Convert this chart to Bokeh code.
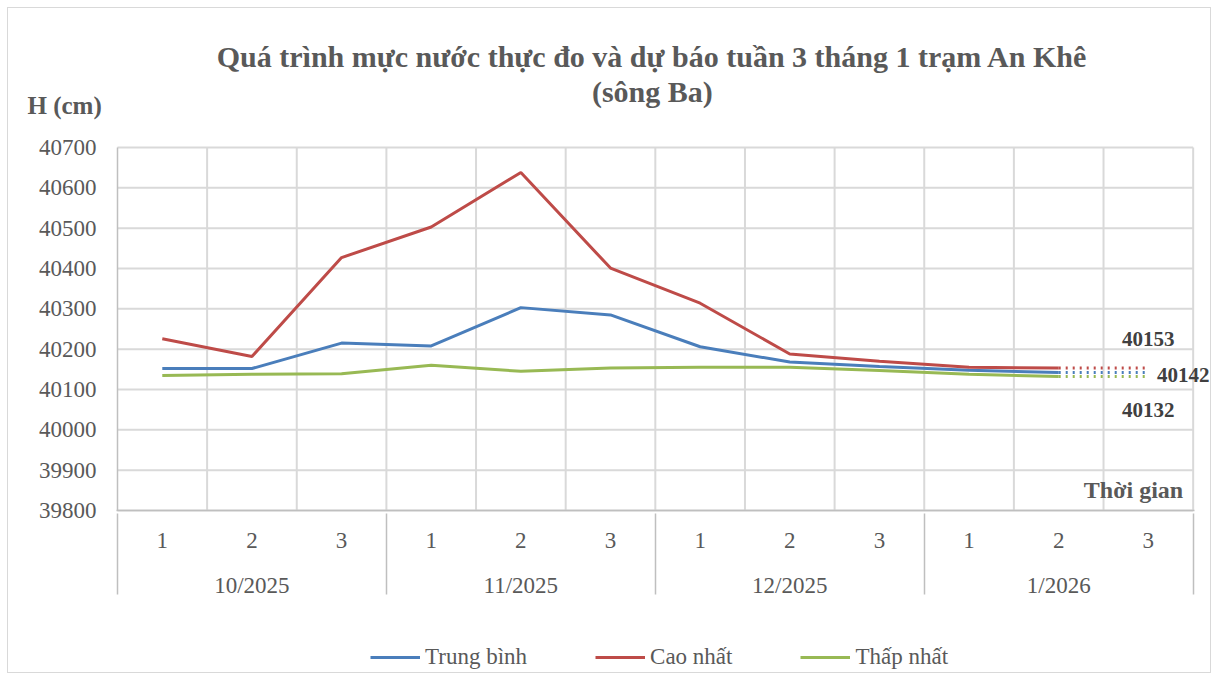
from bokeh.plotting import figure
from bokeh.models import FactorRange, Label, Legend, LegendItem, ColumnDataSource, FixedTicker
from bokeh.core.properties import value
from bokeh.embed import file_html
from bokeh.resources import INLINE

# ---------------- data ----------------
months = ["10/2025", "11/2025", "12/2025", "1/2026"]
weeks = ["1", "2", "3"]
series_names = ["Trung bình", "Cao nhất", "Thấp nhất"]
trung_binh = [40152, 40152, 40215, 40208, 40303, 40285, 40206, 40168, 40157, 40148, 40142]
cao_nhat = [40226, 40182, 40427, 40503, 40638, 40401, 40314, 40188, 40170, 40155, 40153]
thap_nhat = [40135, 40138, 40139, 40160, 40145, 40153, 40155, 40155, 40147, 40138, 40132]
forecast_values = [40142, 40153, 40132]
y_ticks = [39800, 39900, 40000, 40100, 40200, 40300, 40400, 40500, 40600, 40700]
title_line1 = "Quá trình mực nước thực đo và dự báo tuần 3 tháng 1 trạm An Khê"
title_line2 = "(sông Ba)"
y_label = "H (cm)"
x_label = "Thời gian"

colors = ["#4A7EBB", "#BE4B48", "#98B954"]
FONT = "Liberation Serif"
TXT = "#595959"
GRID = "#D9D9D9"
AXIS = "#BFBFBF"

# ---------------- layout geometry (screen px inside the figure) ----------------
W, H = 1204, 666
PLOT_TOP, PLOT_BOTTOM = 139, 502          # where y_ticks[-1] / y_ticks[0] sit
px_per_cm = (PLOT_BOTTOM - PLOT_TOP) / (y_ticks[-1] - y_ticks[0])
y_start = y_ticks[0] - (H - PLOT_BOTTOM) / px_per_cm
y_end = y_ticks[-1] + PLOT_TOP / px_per_cm

real = [(m, w) for m in months for w in weeks]
left_pad = [("_a", "_1"), ("_a", "_2")]
right_pad = [("_b", "_1")]
factors = left_pad + real + right_pad
x_range = FactorRange(*factors, factor_padding=0, group_padding=0, subgroup_padding=0,
                      range_padding=-0.7844, range_padding_units="absolute")

n = len(real)
x0 = len(left_pad)
bounds = [x0 + i for i in range(n + 1)]

p = figure(width=W, height=H, x_range=x_range, y_range=(y_start, y_end),
           output_backend="svg", toolbar_location=None, min_border=0,
           styles={"border": "1px solid #D9D9D9", "margin-left": "7px", "margin-top": "7px"})
p.outline_line_color = None
p.title.visible = False
p.xgrid.visible = False
p.ygrid.visible = False

# y axis pinned at the left edge of the plot area
ya = p.yaxis[0]
ya.fixed_location = bounds[0]
ya.bounds = (y_ticks[0], y_ticks[-1])
ya.ticker = FixedTicker(ticks=y_ticks)
ya.major_label_text_font = FONT
ya.major_label_text_font_size = "23px"
ya.major_label_text_color = TXT
ya.major_tick_line_color = None
ya.major_tick_out = 0
ya.major_tick_in = 0
ya.minor_tick_line_color = None
ya.axis_line_color = AXIS
ya.axis_line_width = 1.5
ya.major_label_standoff = 21

# x axis pinned at the bottom of the plot area
xa = p.xaxis[0]
xa.fixed_location = y_ticks[0]
xa.bounds = (bounds[0] - 0.01, bounds[-1] + 0.01)
xa.major_label_text_font = FONT
xa.major_label_text_font_size = "23px"
xa.major_label_text_color = TXT
xa.group_text_font = FONT
xa.group_text_font_size = "23px"
xa.group_text_color = TXT
xa.group_text_font_style = "normal"
xa.major_tick_line_color = None
xa.major_tick_out = 0
xa.major_tick_in = 0
xa.minor_tick_line_color = None
xa.axis_line_color = AXIS
xa.axis_line_width = 1.5
xa.separator_line_color = AXIS
xa.separator_line_width = 1.5
xa.major_label_standoff = 22

# grid lines limited to the plot area
p.segment(x0=[bounds[0]] * len(y_ticks), x1=[bounds[-1]] * len(y_ticks), y0=y_ticks, y1=y_ticks,
          line_color=GRID, line_width=2)
p.segment(x0=bounds[1:], x1=bounds[1:], y0=[y_ticks[0]] * n, y1=[y_ticks[-1]] * n,
          line_color=GRID, line_width=2)

# series
obs = [trung_binh, cao_nhat, thap_nhat]
renderers = []
for vals, c in zip(obs, colors):
    r = p.line(x=real[:len(vals)], y=vals, line_color=c, line_width=3)
    renderers.append(r)
for vals, fv, c in zip(obs, forecast_values, colors):
    p.line(x=[real[len(vals) - 1], real[len(vals)]], y=[vals[-1], fv], line_color=c,
           line_width=3, line_dash="2 5")

# forecast labels
lab_src = ColumnDataSource(dict(
    x=[real[n - 1]] * 3, y=forecast_values, text=[str(v) for v in forecast_values],
    xo=[35, 0, 0], yo=[2, -29, 33]))
p.text(x="x", y="y", text="text", x_offset="xo", y_offset="yo", source=lab_src,
       text_font=value(FONT), text_font_size="21px", text_font_style="bold",
       text_color="#404040", text_align="center", text_baseline="middle")

# titles and axis names
mid = (bounds[0] + bounds[-1]) / 2
p.add_layout(Label(x=mid, y=y_ticks[-1], x_offset=-3, y_offset=91, text=title_line1,
                   text_font=FONT, text_font_size="30px", text_font_style="bold",
                   text_color=TXT, text_baseline="middle", text_align="center"))
p.add_layout(Label(x=mid, y=y_ticks[-1], x_offset=-3, y_offset=56, text=title_line2,
                   text_font=FONT, text_font_size="30px", text_font_style="bold",
                   text_color=TXT, text_baseline="middle", text_align="center"))
p.add_layout(Label(x=bounds[0], y=y_ticks[-1], x_offset=-90, y_offset=42, text=y_label,
                   text_font=FONT, text_font_size="25px", text_font_style="bold",
                   text_color=TXT, text_baseline="middle", text_align="left"))
p.add_layout(Label(x=bounds[-1], y=y_ticks[0], x_offset=-10, y_offset=21, text=x_label,
                   text_font=FONT, text_font_size="24px", text_font_style="bold",
                   text_color=TXT, text_baseline="middle", text_align="right"))

# legend
legend = Legend(items=[LegendItem(label=nm, renderers=[r]) for nm, r in zip(series_names, renderers)],
                orientation="horizontal", location=(362, 4), padding=0, margin=0,
                glyph_width=50, label_standoff=5, spacing=68,
                label_text_font=FONT, label_text_font_size="23px", label_text_color=TXT,
                background_fill_alpha=0, border_line_color=None)
p.add_layout(legend)

open("out.html", "w").write(file_html(p, INLINE))
